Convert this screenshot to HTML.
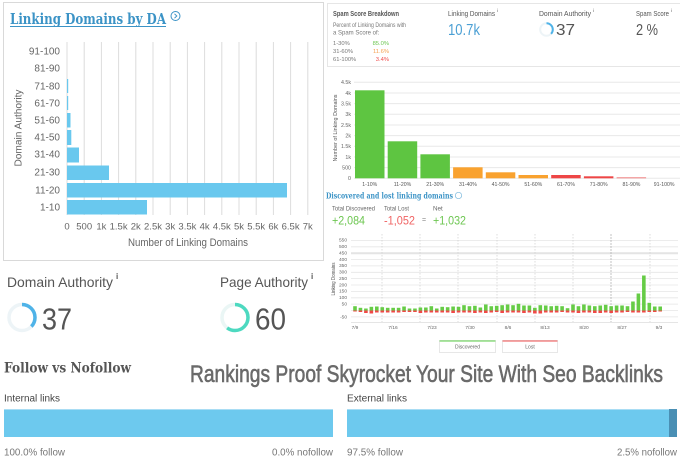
<!DOCTYPE html>
<html><head><meta charset="utf-8"><style>
html,body{margin:0;padding:0;background:#fff;width:680px;height:460px;overflow:hidden}
svg{display:block}
text{font-family:"Liberation Sans",sans-serif}
text.slab{font-family:"DejaVu Serif",serif;font-weight:bold}
.t{fill:#666}
</style></head><body>
<svg width="680" height="460" viewBox="0 0 680 460" xmlns="http://www.w3.org/2000/svg">
<rect width="680" height="460" fill="#fff"/>

<!-- LEFT PANEL -->
<rect x="3.5" y="2.5" width="320" height="258" fill="none" stroke="#d9d9d9"/>
<text class="slab" x="10" y="24" font-size="15" fill="#3b93c6" textLength="156" lengthAdjust="spacingAndGlyphs">Linking Domains by DA</text>
<line x1="10" y1="26.5" x2="166" y2="26.5" stroke="#3b93c6" stroke-width="1"/>
<circle cx="175.5" cy="16" r="4.5" fill="none" stroke="#3b93c6" stroke-width="1"/>
<path d="M174.5 13.8 L176.8 16 L174.5 18.2" fill="none" stroke="#3b93c6" stroke-width="1"/>

<g stroke="#dcdcdc" stroke-width="1">
<line x1="67" y1="42" x2="67" y2="215"/><line x1="84.2" y1="42" x2="84.2" y2="215"/><line x1="101.4" y1="42" x2="101.4" y2="215"/><line x1="118.6" y1="42" x2="118.6" y2="215"/><line x1="135.8" y1="42" x2="135.8" y2="215"/><line x1="153" y1="42" x2="153" y2="215"/><line x1="170.2" y1="42" x2="170.2" y2="215"/><line x1="187.4" y1="42" x2="187.4" y2="215"/><line x1="204.6" y1="42" x2="204.6" y2="215"/><line x1="221.8" y1="42" x2="221.8" y2="215"/><line x1="239" y1="42" x2="239" y2="215"/><line x1="256.2" y1="42" x2="256.2" y2="215"/><line x1="273.4" y1="42" x2="273.4" y2="215"/><line x1="290.6" y1="42" x2="290.6" y2="215"/><line x1="307.8" y1="42" x2="307.8" y2="215"/>
</g>
<g fill="#69c8ee">
<rect x="67" y="200" width="80" height="14.5"/>
<rect x="67" y="183" width="220" height="14.5"/>
<rect x="67" y="165.5" width="42" height="14.5"/>
<rect x="67" y="147.5" width="12" height="15"/>
<rect x="67" y="130" width="4.3" height="15"/>
<rect x="67" y="113" width="3.5" height="14.5"/>
<rect x="67" y="96" width="1.2" height="14"/>
<rect x="67" y="79" width="1.2" height="14"/>
</g>
<g class="t" font-size="10" text-anchor="end">
<text x="60" y="54.5">91-100</text><text x="60" y="71.5">81-90</text><text x="60" y="89.5">71-80</text><text x="60" y="106.5">61-70</text><text x="60" y="123.5">51-60</text><text x="60" y="140.5">41-50</text><text x="60" y="157.5">31-40</text><text x="60" y="175.5">21-30</text><text x="60" y="193.5">11-20</text><text x="60" y="210.5">1-10</text>
</g>
<g class="t" font-size="9.5" text-anchor="middle">
<text x="67" y="229.5">0</text><text x="84.2" y="229.5">500</text><text x="101.4" y="229.5">1k</text><text x="118.6" y="229.5">1.5k</text><text x="135.8" y="229.5">2k</text><text x="153" y="229.5">2.5k</text><text x="170.2" y="229.5">3k</text><text x="187.4" y="229.5">3.5k</text><text x="204.6" y="229.5">4k</text><text x="221.8" y="229.5">4.5k</text><text x="239" y="229.5">5k</text><text x="256.2" y="229.5">5.5k</text><text x="273.4" y="229.5">6k</text><text x="290.6" y="229.5">6.5k</text><text x="307.8" y="229.5">7k</text>
</g>
<text class="t" x="128" y="246" font-size="11" textLength="120" lengthAdjust="spacingAndGlyphs">Number of Linking Domains</text>
<text class="t" x="0" y="0" font-size="10.5" text-anchor="middle" transform="translate(21.5,128) rotate(-90)" textLength="77" lengthAdjust="spacingAndGlyphs">Domain Authority</text>

<!-- SPAM CARD -->
<rect x="327.5" y="3.5" width="360" height="63" fill="none" stroke="#e6e6e6"/>
<text x="333" y="16" font-size="7.3" font-weight="bold" fill="#555" textLength="66" lengthAdjust="spacingAndGlyphs">Spam Score Breakdown</text>
<text x="333" y="27" font-size="6" fill="#777" textLength="73" lengthAdjust="spacingAndGlyphs">Percent of Linking Domains with</text>
<text x="333" y="34.5" font-size="6" fill="#777">a Spam Score of:</text>
<g font-size="5.8" fill="#777"><text x="333" y="45">1-30%</text><text x="333" y="53">31-60%</text><text x="333" y="61">61-100%</text></g>
<g font-size="5.8" text-anchor="end"><text x="389" y="45" fill="#6cc650">85.0%</text><text x="389" y="53" fill="#f5a050">11.6%</text><text x="389" y="61" fill="#ef4a4a">3.4%</text></g>
<text x="448" y="16" font-size="7.3" fill="#555" textLength="47" lengthAdjust="spacingAndGlyphs">Linking Domains</text><text x="497" y="12" font-size="4.5" fill="#555">i</text>
<text x="448" y="35" font-size="16" fill="#4a9fd4" textLength="32" lengthAdjust="spacingAndGlyphs">10.7k</text>
<text x="539" y="16" font-size="7.3" fill="#555" textLength="52" lengthAdjust="spacingAndGlyphs">Domain Authority</text><text x="593" y="12" font-size="4.5" fill="#555">i</text>
<circle cx="546.5" cy="29.5" r="6.3" fill="none" stroke="#edf4f7" stroke-width="2"/>
<circle cx="546.5" cy="29.5" r="6.3" fill="none" stroke="#4fb3e8" stroke-width="2" stroke-dasharray="14.6 40" transform="rotate(-90 546.5 29.5)"/>
<text x="556" y="35" font-size="16" fill="#555" textLength="19" lengthAdjust="spacingAndGlyphs">37</text>
<text x="636" y="16" font-size="7.3" fill="#555" textLength="33" lengthAdjust="spacingAndGlyphs">Spam Score</text><text x="671" y="12" font-size="4.5" fill="#555">i</text>
<text x="636" y="35" font-size="16" fill="#555" textLength="22" lengthAdjust="spacingAndGlyphs">2 %</text>

<!-- SPAM BAR CHART -->
<g stroke="#e8e8e8" stroke-width="1">
<line x1="354" y1="82.3" x2="680" y2="82.3"/><line x1="354" y1="93" x2="680" y2="93"/><line x1="354" y1="103.6" x2="680" y2="103.6"/><line x1="354" y1="114.3" x2="680" y2="114.3"/><line x1="354" y1="125" x2="680" y2="125"/><line x1="354" y1="135.6" x2="680" y2="135.6"/><line x1="354" y1="146.3" x2="680" y2="146.3"/><line x1="354" y1="157" x2="680" y2="157"/><line x1="354" y1="167.6" x2="680" y2="167.6"/><line x1="354" y1="178.3" x2="680" y2="178.3"/>
</g>
<g font-size="5.3" fill="#666" text-anchor="end">
<text x="351" y="84">4.5k</text><text x="351" y="95">4k</text><text x="351" y="105.5">3.5k</text><text x="351" y="116">3k</text><text x="351" y="127">2.5k</text><text x="351" y="137.5">2k</text><text x="351" y="148">1.5k</text><text x="351" y="159">1k</text><text x="351" y="169.5">500</text><text x="351" y="180">0</text>
</g>
<text font-size="5.5" fill="#555" text-anchor="middle" transform="translate(337,128) rotate(-90)" textLength="67" lengthAdjust="spacingAndGlyphs">Number of Linking Domains</text>
<rect x="355" y="90.3" width="29.5" height="88" fill="#5ec541"/>
<rect x="387.7" y="141.3" width="29.5" height="37" fill="#5ec541"/>
<rect x="420.4" y="154.3" width="29.5" height="24" fill="#5ec541"/>
<rect x="453.1" y="167.3" width="29.5" height="11" fill="#f9a22f"/>
<rect x="485.8" y="172.3" width="29.5" height="6" fill="#f9a22f"/>
<rect x="518.5" y="175" width="29.5" height="3.3" fill="#f9a22f"/>
<rect x="551.2" y="175" width="29.5" height="3.3" fill="#ee4646"/>
<rect x="583.9" y="176.3" width="29.5" height="2" fill="#ee4646"/>
<rect x="616.6" y="177.3" width="29.5" height="1" fill="#f08080"/>
<g font-size="5.2" fill="#555" text-anchor="middle">
<text x="369.8" y="186">1-10%</text><text x="402.5" y="186">11-20%</text><text x="435.2" y="186">21-30%</text><text x="467.9" y="186">31-40%</text><text x="500.6" y="186">41-50%</text><text x="533.3" y="186">51-60%</text><text x="566" y="186">61-70%</text><text x="598.7" y="186">71-80%</text><text x="631.4" y="186">81-90%</text><text x="664.1" y="186">91-100%</text>
</g>

<!-- DISCOVERED / LOST -->
<text class="slab" x="326" y="198.5" font-size="8.5" fill="#3b93c6" textLength="127" lengthAdjust="spacingAndGlyphs">Discovered and lost linking domains</text>
<circle cx="458.5" cy="195.5" r="3.2" fill="none" stroke="#7ab8dc" stroke-width="0.7"/>
<g font-size="6.3" fill="#666"><text x="332" y="210.5" textLength="43" lengthAdjust="spacingAndGlyphs">Total Discovered</text><text x="384" y="210.5" textLength="25" lengthAdjust="spacingAndGlyphs">Total Lost</text><text x="433" y="210.5">Net</text></g>
<g font-size="12"><text x="332" y="224.5" fill="#6cc650" textLength="33" lengthAdjust="spacingAndGlyphs">+2,084</text><text x="384" y="224.5" fill="#f06464" textLength="31" lengthAdjust="spacingAndGlyphs">-1,052</text><text x="422" y="222" font-size="7" fill="#888">=</text><text x="433" y="224.5" fill="#6cc650" textLength="33" lengthAdjust="spacingAndGlyphs">+1,032</text></g>

<!-- LINE/BAR TIME CHART -->
<g stroke="#e6e6e6" stroke-width="0.8">
<line x1="351" y1="240.5" x2="678" y2="240.5"/><line x1="351" y1="246.8" x2="678" y2="246.8"/><line x1="351" y1="259.6" x2="678" y2="259.6"/><line x1="351" y1="265.9" x2="678" y2="265.9"/><line x1="351" y1="272.3" x2="678" y2="272.3"/><line x1="351" y1="278.6" x2="678" y2="278.6"/><line x1="351" y1="285" x2="678" y2="285"/><line x1="351" y1="291.4" x2="678" y2="291.4"/><line x1="351" y1="297.8" x2="678" y2="297.8"/><line x1="351" y1="304.1" x2="678" y2="304.1"/><line x1="351" y1="310.5" x2="678" y2="310.5"/><line x1="351" y1="316.9" x2="678" y2="316.9"/>
</g>
<line x1="351" y1="253.2" x2="678" y2="253.2" stroke="#e4e4e4" stroke-width="2"/>
<g stroke="#cfcfcf" stroke-width="0.7" stroke-dasharray="1.5 1.5">
<line x1="382" y1="234" x2="382" y2="322"/><line x1="420" y1="234" x2="420" y2="322"/><line x1="458" y1="234" x2="458" y2="322"/><line x1="497" y1="234" x2="497" y2="322"/><line x1="535" y1="234" x2="535" y2="322"/><line x1="573" y1="234" x2="573" y2="322"/><line x1="650" y1="234" x2="650" y2="322"/>
</g>
<line x1="611" y1="234" x2="611" y2="322" stroke="#aaa" stroke-width="0.7" stroke-dasharray="2 1"/>
<line x1="351" y1="322.5" x2="678" y2="322.5" stroke="#ddd" stroke-width="0.8"/>
<g font-size="4.8" fill="#666" text-anchor="end">
<text x="347" y="241.5">550</text><text x="347" y="248">500</text><text x="347" y="254.5">450</text><text x="347" y="261">400</text><text x="347" y="267">350</text><text x="347" y="273.5">300</text><text x="347" y="280">250</text><text x="347" y="286.5">200</text><text x="347" y="292.5">150</text><text x="347" y="299">100</text><text x="347" y="305.5">50</text><text x="347" y="318.5">-50</text>
</g>
<text font-size="5.2" fill="#555" text-anchor="middle" transform="translate(335,279) rotate(-90)" textLength="33" lengthAdjust="spacingAndGlyphs">Linking Domains</text>
<g fill="#66cc46">
<rect x="353.2" y="306.2" width="3.6" height="4.3"/><rect x="358.65" y="307.8" width="3.6" height="2.7"/><rect x="364.1" y="308.5" width="3.6" height="2"/><rect x="369.55" y="306.8" width="3.6" height="3.7"/><rect x="375" y="306.5" width="3.6" height="4"/><rect x="380.45" y="307.2" width="3.6" height="3.3"/><rect x="385.9" y="307.8" width="3.6" height="2.7"/><rect x="391.35" y="307.8" width="3.6" height="2.7"/><rect x="396.8" y="307.8" width="3.6" height="2.7"/><rect x="402.25" y="306.5" width="3.6" height="4"/>
<rect x="407.7" y="308.5" width="3.6" height="2"/><rect x="413.15" y="308.5" width="3.6" height="2"/><rect x="418.6" y="307.5" width="3.6" height="3"/><rect x="424.05" y="307.5" width="3.6" height="3"/><rect x="429.5" y="306.2" width="3.6" height="4.3"/><rect x="434.95" y="308.5" width="3.6" height="2"/><rect x="440.4" y="306.8" width="3.6" height="3.7"/><rect x="445.85" y="307.2" width="3.6" height="3.3"/><rect x="451.3" y="306.5" width="3.6" height="4"/><rect x="456.75" y="306.8" width="3.6" height="3.7"/>
<rect x="462.2" y="305.2" width="3.6" height="5.3"/><rect x="467.65" y="306.2" width="3.6" height="4.3"/><rect x="473.1" y="305.8" width="3.6" height="4.7"/><rect x="478.55" y="307.5" width="3.6" height="3"/><rect x="484" y="304.5" width="3.6" height="6"/><rect x="489.45" y="306.2" width="3.6" height="4.3"/><rect x="494.9" y="305.8" width="3.6" height="4.7"/><rect x="500.35" y="305.2" width="3.6" height="5.3"/><rect x="505.8" y="304.5" width="3.6" height="6"/><rect x="511.25" y="305.2" width="3.6" height="5.3"/>
<rect x="516.7" y="303.8" width="3.6" height="6.7"/><rect x="522.15" y="305.5" width="3.6" height="5"/><rect x="527.6" y="305.5" width="3.6" height="5"/><rect x="533.05" y="307.8" width="3.6" height="2.7"/><rect x="538.5" y="305.2" width="3.6" height="5.3"/><rect x="543.95" y="305.5" width="3.6" height="5"/><rect x="549.4" y="306.2" width="3.6" height="4.3"/><rect x="554.85" y="305.8" width="3.6" height="4.7"/><rect x="560.3" y="306.2" width="3.6" height="4.3"/><rect x="565.75" y="308.2" width="3.6" height="2.3"/>
<rect x="571.2" y="304.5" width="3.6" height="6"/><rect x="576.65" y="306.2" width="3.6" height="4.3"/><rect x="582.1" y="304.5" width="3.6" height="6"/><rect x="587.55" y="305.5" width="3.6" height="5"/><rect x="593" y="306.2" width="3.6" height="4.3"/><rect x="598.45" y="305.5" width="3.6" height="5"/><rect x="603.9" y="304.8" width="3.6" height="5.7"/><rect x="609.35" y="306.2" width="3.6" height="4.3"/><rect x="614.8" y="305.5" width="3.6" height="5"/><rect x="620.25" y="305.5" width="3.6" height="5"/>
<rect x="625.7" y="306.2" width="3.6" height="4.3"/><rect x="631.15" y="301.5" width="3.6" height="9"/><rect x="636.6" y="293.5" width="3.6" height="17"/><rect x="642.05" y="275.5" width="3.6" height="35"/><rect x="647.5" y="302.8" width="3.6" height="7.7"/><rect x="652.95" y="306.5" width="3.6" height="4"/><rect x="658.4" y="306.5" width="3.6" height="4"/>
</g>
<g fill="#f04848">
<rect x="353.2" y="310.5" width="3.6" height="1"/><rect x="358.65" y="310.5" width="3.6" height="1.5"/><rect x="364.1" y="310.5" width="3.6" height="2.5"/><rect x="369.55" y="310.5" width="3.6" height="3"/><rect x="375" y="310.5" width="3.6" height="2"/><rect x="380.45" y="310.5" width="3.6" height="2"/><rect x="385.9" y="310.5" width="3.6" height="2"/><rect x="391.35" y="310.5" width="3.6" height="2"/><rect x="396.8" y="310.5" width="3.6" height="2"/><rect x="402.25" y="310.5" width="3.6" height="1.5"/>
<rect x="407.7" y="310.5" width="3.6" height="1.5"/><rect x="413.15" y="310.5" width="3.6" height="1.5"/><rect x="418.6" y="310.5" width="3.6" height="2.5"/><rect x="424.05" y="310.5" width="3.6" height="2"/><rect x="429.5" y="310.5" width="3.6" height="2"/><rect x="434.95" y="310.5" width="3.6" height="2"/><rect x="440.4" y="310.5" width="3.6" height="2"/><rect x="445.85" y="310.5" width="3.6" height="2"/><rect x="451.3" y="310.5" width="3.6" height="2.5"/><rect x="456.75" y="310.5" width="3.6" height="2"/>
<rect x="462.2" y="310.5" width="3.6" height="2"/><rect x="467.65" y="310.5" width="3.6" height="2"/><rect x="473.1" y="310.5" width="3.6" height="2.5"/><rect x="478.55" y="310.5" width="3.6" height="2"/><rect x="484" y="310.5" width="3.6" height="2.5"/><rect x="489.45" y="310.5" width="3.6" height="2"/><rect x="494.9" y="310.5" width="3.6" height="1.5"/><rect x="500.35" y="310.5" width="3.6" height="2.5"/><rect x="505.8" y="310.5" width="3.6" height="2"/><rect x="511.25" y="310.5" width="3.6" height="2"/>
<rect x="516.7" y="310.5" width="3.6" height="2"/><rect x="522.15" y="310.5" width="3.6" height="2.5"/><rect x="527.6" y="310.5" width="3.6" height="2"/><rect x="533.05" y="310.5" width="3.6" height="3"/><rect x="538.5" y="310.5" width="3.6" height="3"/><rect x="543.95" y="310.5" width="3.6" height="2"/><rect x="549.4" y="310.5" width="3.6" height="2"/><rect x="554.85" y="310.5" width="3.6" height="2"/><rect x="560.3" y="310.5" width="3.6" height="1.5"/><rect x="565.75" y="310.5" width="3.6" height="2"/>
<rect x="571.2" y="310.5" width="3.6" height="2"/><rect x="576.65" y="310.5" width="3.6" height="2.5"/><rect x="582.1" y="310.5" width="3.6" height="2"/><rect x="587.55" y="310.5" width="3.6" height="2"/><rect x="593" y="310.5" width="3.6" height="2.5"/><rect x="598.45" y="310.5" width="3.6" height="2.5"/><rect x="603.9" y="310.5" width="3.6" height="2"/><rect x="609.35" y="310.5" width="3.6" height="2.5"/><rect x="614.8" y="310.5" width="3.6" height="2"/><rect x="620.25" y="310.5" width="3.6" height="2"/>
<rect x="625.7" y="310.5" width="3.6" height="1.5"/><rect x="631.15" y="310.5" width="3.6" height="2"/><rect x="636.6" y="310.5" width="3.6" height="2"/><rect x="642.05" y="310.5" width="3.6" height="2"/><rect x="647.5" y="310.5" width="3.6" height="1.5"/><rect x="652.95" y="310.5" width="3.6" height="1.5"/><rect x="658.4" y="310.5" width="3.6" height="1"/>
</g>
<g font-size="4.8" fill="#666" text-anchor="middle">
<text x="355" y="329">7/9</text><text x="393" y="329">7/16</text><text x="432" y="329">7/23</text><text x="470" y="329">7/30</text><text x="508" y="329">8/6</text><text x="545" y="329">8/13</text><text x="584" y="329">8/20</text><text x="622" y="329">8/27</text><text x="659" y="329">9/3</text>
</g>
<rect x="439.5" y="340.5" width="56" height="12" fill="#fff" stroke="#e2e2e2" stroke-width="0.8"/>
<line x1="439.5" y1="341" x2="495.5" y2="341" stroke="#7ad66a" stroke-width="1.3"/>
<text x="467.5" y="348.5" font-size="5" fill="#666" text-anchor="middle">Discovered</text>
<rect x="502.5" y="340.5" width="55" height="12" fill="#fff" stroke="#e2e2e2" stroke-width="0.8"/>
<line x1="502.5" y1="341" x2="557.5" y2="341" stroke="#f07070" stroke-width="1.3"/>
<text x="530" y="348.5" font-size="5" fill="#666" text-anchor="middle">Lost</text>

<!-- DA / PA -->
<text x="7" y="287" font-size="14" fill="#555" textLength="106" lengthAdjust="spacingAndGlyphs">Domain Authority</text>
<text x="116" y="279" font-size="8" font-weight="bold" fill="#555">i</text>
<circle cx="22" cy="317.5" r="13" fill="none" stroke="#edf4f7" stroke-width="3.5"/>
<circle cx="22" cy="317.5" r="13" fill="none" stroke="#4fb3e8" stroke-width="3.5" stroke-dasharray="30.2 82" transform="rotate(-90 22 317.5)"/>
<text x="42" y="329.5" font-size="31" fill="#555" textLength="30" lengthAdjust="spacingAndGlyphs">37</text>
<text x="220" y="287" font-size="14" fill="#555" textLength="88" lengthAdjust="spacingAndGlyphs">Page Authority</text>
<text x="311" y="279" font-size="8" font-weight="bold" fill="#555">i</text>
<circle cx="235" cy="317.5" r="13" fill="none" stroke="#eaf6f5" stroke-width="3.5"/>
<circle cx="235" cy="317.5" r="13" fill="none" stroke="#4dd9c0" stroke-width="3.5" stroke-dasharray="49 82" transform="rotate(-90 235 317.5)"/>
<text x="255" y="329.5" font-size="31" fill="#555" textLength="31" lengthAdjust="spacingAndGlyphs">60</text>

<!-- FOLLOW VS NOFOLLOW -->
<text class="slab" x="4" y="372.5" font-size="14" fill="#555" textLength="127" lengthAdjust="spacingAndGlyphs">Follow vs Nofollow</text>
<text x="190" y="382" font-size="24" fill="#6a6a6a" stroke="#6a6a6a" stroke-width="0.6" textLength="473" lengthAdjust="spacingAndGlyphs">Rankings Proof Skyrocket Your Site With Seo Backlinks</text>

<text x="4" y="401.5" font-size="10" fill="#444" textLength="56" lengthAdjust="spacingAndGlyphs">Internal links</text>
<rect x="4" y="409" width="329" height="28" fill="#6dc9ee"/>
<rect x="4" y="409" width="329" height="1" fill="#a9ddf4"/>
<text x="4" y="455.5" font-size="10" fill="#777" textLength="61" lengthAdjust="spacingAndGlyphs">100.0% follow</text>
<text x="333" y="455.5" font-size="10" fill="#777" text-anchor="end" textLength="61" lengthAdjust="spacingAndGlyphs">0.0% nofollow</text>

<text x="347" y="401.5" font-size="10" fill="#444" textLength="60" lengthAdjust="spacingAndGlyphs">External links</text>
<rect x="347" y="409" width="330" height="28" fill="#6dc9ee"/>
<rect x="347" y="409" width="330" height="1" fill="#a9ddf4"/>
<rect x="669" y="409" width="8" height="28" fill="#4a8fb4"/>
<text x="347" y="455.5" font-size="10" fill="#777" textLength="56" lengthAdjust="spacingAndGlyphs">97.5% follow</text>
<text x="677" y="455.5" font-size="10" fill="#777" text-anchor="end" textLength="60" lengthAdjust="spacingAndGlyphs">2.5% nofollow</text>
</svg>
</body></html>
